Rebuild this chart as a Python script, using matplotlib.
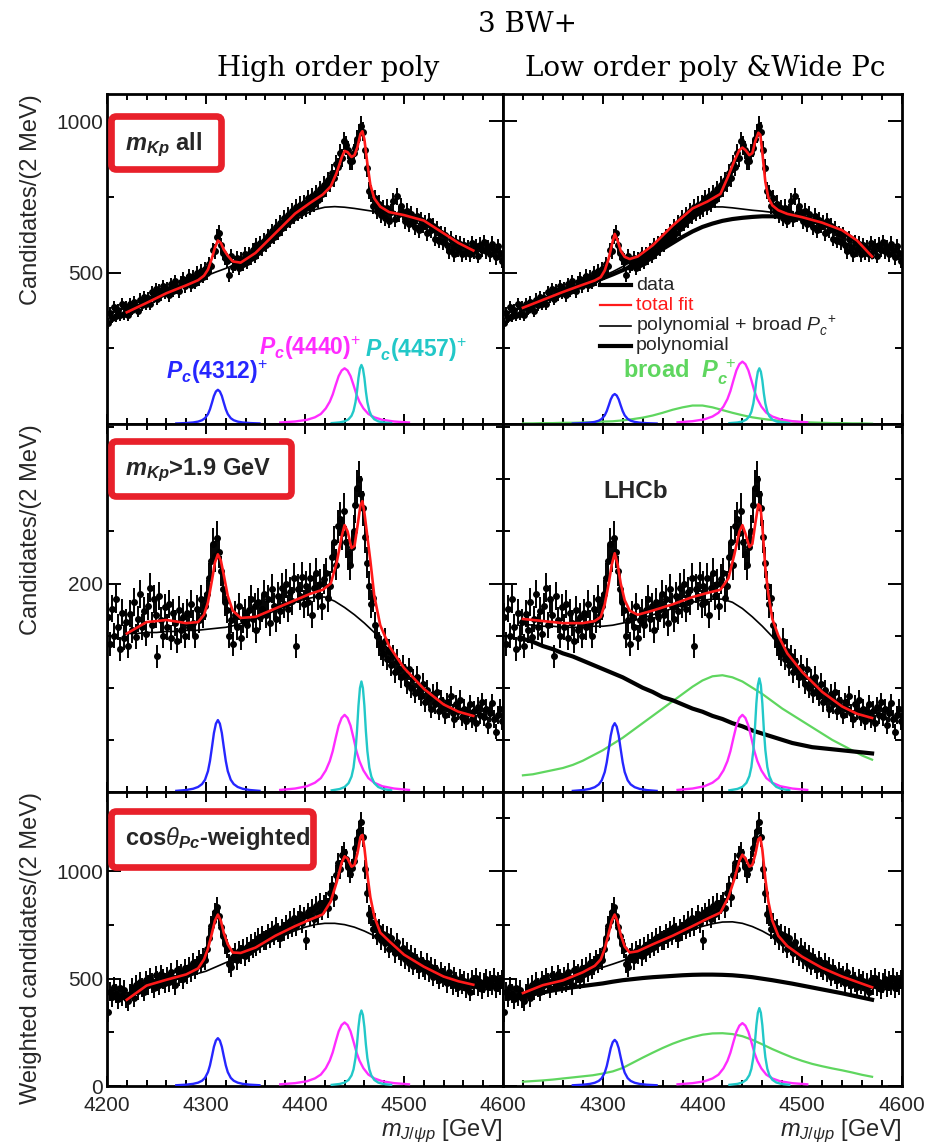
"""
Pc(4312/4440/4457) fits to the J/psi p mass spectrum: three event selections
(rows) fitted with two background models (columns).
"""
import numpy as np
import matplotlib.pyplot as plt
from matplotlib.patches import FancyBboxPatch
from matplotlib.lines import Line2D
from matplotlib.ticker import MultipleLocator

plt.rcParams["font.family"] = ["Liberation Sans", "DejaVu Sans"]
plt.rcParams["mathtext.fontset"] = "custom"
plt.rcParams["mathtext.rm"] = "Liberation Sans"
plt.rcParams["mathtext.it"] = "Liberation Sans:italic"
plt.rcParams["mathtext.bf"] = "Liberation Sans:bold"
plt.rcParams["mathtext.bfit"] = "Liberation Sans:bold:italic"

W_PX, H_PX = 936, 1145

# ── binned data: 2 MeV bins from 4200 to 4600 ───────────────────────────────
BIN_LO, BIN_HI, BIN_W = 4200, 4600, 2
BIN_CENTRES = np.arange(BIN_LO + BIN_W / 2, BIN_HI, BIN_W)

# m_Kp all
TOP_COUNTS = [
    332, 368, 351, 385, 356, 377, 359, 395, 364, 388,
    360, 396, 378, 402, 389, 374, 411, 393, 420, 398,
    415, 398, 436, 421, 446, 412, 440, 428, 455, 433,
    447, 425, 462, 440, 471, 452, 438, 468, 480, 455,
    472, 490, 458, 485, 466, 498, 478, 505, 487, 512,
    498, 530, 522, 574, 570, 618, 632, 590, 566, 548,
    540, 492, 555, 520, 530, 548, 516, 545, 528, 560,
    535, 562, 548, 575, 556, 590, 568, 598, 580, 605,
    592, 620, 608, 636, 618, 650, 632, 665, 648, 680,
    662, 690, 675, 705, 686, 718, 696, 725, 704, 730,
    712, 745, 718, 752, 728, 762, 740, 775, 760, 790,
    778, 805, 795, 830, 812, 860, 848, 895, 880, 935,
    920, 905, 870, 868, 895, 912, 940, 960, 985, 965,
    905, 845, 770, 762, 720, 745, 705, 728, 690, 712,
    680, 715, 672, 700, 735, 678, 752, 695, 720, 700,
    670, 705, 660, 695, 672, 650, 688, 640, 675, 655,
    665, 630, 672, 640, 655, 612, 645, 605, 630, 600,
    625, 590, 570, 612, 585, 560, 600, 575, 595, 560,
    590, 565, 582, 560, 598, 570, 588, 555, 592, 575,
    600, 570, 585, 560, 595, 575, 550, 588, 565, 540,
]

# m_Kp > 1.9 GeV
MID_COUNTS = [
    168, 142, 176, 150, 185, 158, 137, 172, 148, 163,
    140, 171, 155, 182, 149, 166, 190, 158, 174, 152,
    178, 196, 160, 185, 170, 130, 188, 165, 150, 177,
    158, 180, 148, 172, 162, 145, 175, 155, 168, 150,
    172, 158, 180, 162, 150, 176, 165, 185, 170, 178,
    190, 205, 222, 238, 226, 244, 230, 212, 195, 182,
    175, 150, 165, 142, 170, 158, 178, 148, 165, 172,
    160, 175, 185, 166, 178, 155, 182, 168, 176, 190,
    170, 185, 162, 195, 178, 166, 188, 174, 196, 180,
    200, 176, 192, 183, 205, 140, 195, 188, 206, 180,
    198, 182, 205, 170, 196, 210, 188, 200, 178, 204,
    210, 186, 198, 225, 240, 218, 255, 262, 248, 270,
    240, 228, 218, 235, 250, 275, 292, 300, 286, 272,
    245, 220, 198, 180, 186, 160, 150, 142, 138, 132,
    145, 128, 135, 122, 130, 115, 126, 118, 110, 120,
    112, 104, 118, 100, 108, 95, 110, 98, 92, 104,
    86, 98, 90, 80, 94, 84, 96, 78, 88, 82,
    74, 86, 80, 92, 76, 70, 84, 78, 88, 72,
    80, 68, 76, 84, 70, 78, 66, 82, 74, 86,
    72, 80, 64, 76, 85, 70, 58, 74, 80, 68,
]

# cos(theta_Pc)-weighted
BOT_COUNTS = [
    345, 440, 415, 462, 430, 405, 455, 420, 448, 410,
    395, 430, 458, 412, 470, 445, 485, 460, 440, 492,
    470, 505, 480, 455, 515, 490, 470, 520, 498, 480,
    510, 485, 530, 495, 470, 540, 512, 525, 498, 548,
    520, 555, 530, 575, 545, 560, 590, 570, 600, 585,
    640, 690, 745, 770, 810, 835, 790, 740, 700, 660,
    640, 570, 555, 600, 620, 585, 630, 612, 640, 605,
    650, 625, 662, 640, 672, 650, 690, 665, 700, 678,
    680, 708, 690, 725, 700, 742, 715, 690, 735, 720,
    750, 728, 770, 740, 785, 745, 770, 800, 760, 790,
    680, 810, 790, 825, 780, 840, 800, 855, 820, 845,
    860, 830, 900, 935, 880, 985, 1040, 1010, 1075, 1090,
    1060, 1020, 990, 1015, 1050, 1110, 1150, 1190, 1230, 1160,
    1010, 900, 800, 790, 730, 760, 700, 735, 680, 710,
    665, 700, 640, 690, 655, 620, 670, 630, 605, 645,
    590, 625, 575, 610, 560, 598, 570, 545, 585, 555,
    540, 575, 530, 555, 510, 548, 520, 495, 535, 505,
    515, 480, 530, 495, 470, 510, 485, 460, 500, 475,
    490, 455, 480, 440, 495, 470, 505, 465, 485, 450,
    480, 500, 460, 490, 470, 505, 455, 485, 470, 495,
]
WEIGHTED_ERR = 45.0

# ── total fit, dense knots around the narrow peaks ──────────────────────────
FIT_X = [4220, 4240, 4260, 4280, 4292, 4298, 4302, 4306, 4309, 4312,
         4315, 4318, 4322, 4327, 4335, 4350, 4370, 4390, 4405, 4418,
         4426, 4432, 4437, 4440, 4443, 4447, 4450, 4453, 4456, 4458,
         4460, 4463, 4466, 4470, 4476, 4485, 4500, 4520, 4540, 4555, 4570]

TL_RED = [369, 400, 432, 458, 475, 490, 510, 548, 582, 606,
          598, 576, 556, 537, 533, 565, 630, 695, 730, 758,
          785, 830, 880, 902, 898, 882, 888, 915, 958, 967,
          940, 860, 790, 745, 718, 700, 690, 672, 630, 598, 573]
TR_RED = [384, 410, 436, 460, 474, 485, 507, 547, 590, 628,
          605, 572, 552, 545, 553, 590, 655, 712, 735, 760,
          820, 870, 905, 913, 905, 888, 895, 935, 962, 955,
          895, 800, 748, 722, 706, 694, 683, 665, 640, 606, 553]
ML_RED = [152, 163, 165, 162, 163, 170, 182, 203, 220, 228,
          222, 208, 188, 174, 167, 168, 176, 184, 190, 194,
          200, 220, 245, 256, 250, 234, 236, 255, 275, 279,
          268, 245, 222, 188, 160, 140, 119, 99, 84, 77, 73]
MR_RED = [166, 164, 162, 162, 164, 168, 180, 200, 218, 229,
          218, 200, 184, 174, 170, 174, 180, 187, 191, 194,
          205, 228, 250, 256, 248, 235, 238, 258, 276, 274,
          255, 215, 190, 166, 150, 133, 115, 96, 82, 75, 71]
BL_RED = [402, 468, 495, 520, 548, 590, 640, 712, 770, 799,
          770, 712, 660, 622, 620, 645, 700, 745, 775, 800,
          860, 950, 1040, 1070, 1060, 1022, 1030, 1085, 1160, 1170,
          1110, 985, 880, 790, 715, 675, 612, 556, 510, 488, 472]
BR_RED = [433, 470, 492, 530, 560, 590, 640, 712, 770, 799,
          765, 705, 650, 622, 628, 660, 700, 745, 780, 808,
          880, 965, 1050, 1078, 1060, 1022, 1030, 1080, 1150, 1158,
          1100, 965, 860, 770, 700, 652, 602, 550, 510, 485, 460]

# ── background components, 10 MeV knots ─────────────────────────────────────
BKG_X = [4220, 4230, 4240, 4250, 4260, 4270, 4280, 4290, 4300, 4310,
         4320, 4330, 4340, 4350, 4360, 4370, 4380, 4390, 4400, 4410,
         4420, 4430, 4440, 4450, 4460, 4470, 4480, 4490, 4500, 4510,
         4520, 4530, 4540, 4550, 4560, 4570]

TL_BKG = [369, 387, 404, 419, 432, 445, 459, 474, 489, 502,
          514, 527, 542, 562, 588, 616, 645, 672, 693, 708,
          716, 718, 716, 712, 707, 702, 697, 692, 687, 680,
          669, 654, 634, 613, 593, 573]
TR_THIN = [386, 397, 409, 421, 434, 446, 460, 474, 489, 503,
           520, 539, 561, 586, 615, 645, 673, 697, 712, 717,
           717, 714, 710, 706, 703, 699, 694, 689, 683, 676,
           666, 653, 639, 616, 588, 553]
TR_THICK = [384, 395, 406, 418, 430, 442, 455, 468, 481, 494,
            508, 523, 540, 558, 578, 598, 618, 636, 651, 662,
            671, 677, 681, 684, 686, 686, 684, 681, 677, 671,
            662, 650, 636, 614, 586, 552]
TR_GREEN = [2, 2, 3, 3, 4, 4, 5, 6, 8, 9,
            12, 16, 21, 28, 37, 47, 55, 61, 61, 55,
            46, 37, 29, 22, 17, 13, 10, 8, 6, 5,
            4, 3, 3, 2, 2, 1]

ML_BKG = [152, 152, 153, 153, 154, 154, 155, 155, 156, 157,
          158, 160, 163, 166, 170, 174, 178, 182, 185, 187,
          187, 183, 177, 170, 162, 153, 142, 130, 119, 109,
          99, 91, 84, 79, 75, 73]
MR_THIN = [161, 160, 159, 159, 158, 158, 158, 159, 159, 160,
           162, 164, 167, 170, 173, 176, 179, 182, 184, 185,
           185, 182, 176, 168, 159, 149, 138, 126, 115, 105,
           96, 88, 82, 77, 73, 70]
MR_THICK = [147, 144, 140, 137, 133, 130, 126, 122, 118, 114,
            110, 105, 100, 96, 91, 88, 84, 80, 77, 73,
            70, 66, 63, 59, 56, 53, 50, 47, 45, 43,
            42, 41, 40, 39, 38, 37]
MR_GREEN = [16, 17, 19, 21, 23, 26, 30, 35, 40, 46,
            52, 59, 66, 73, 80, 87, 94, 101, 107, 111,
            112, 110, 106, 100, 94, 87, 80, 74, 68, 62,
            56, 50, 45, 40, 35, 31]

BL_BKG = [402, 430, 452, 470, 485, 498, 510, 522, 535, 555,
          575, 594, 614, 635, 658, 682, 704, 724, 740, 752,
          758, 758, 752, 740, 722, 700, 677, 643, 610, 582,
          555, 530, 510, 495, 482, 472]
BR_THIN = [433, 448, 462, 476, 490, 505, 520, 537, 553, 568,
           584, 604, 627, 650, 671, 691, 710, 728, 744, 756,
           764, 765, 758, 743, 722, 696, 667, 630, 600, 575,
           548, 530, 507, 495, 478, 460]
BR_THICK = [418, 427, 436, 445, 453, 460, 466, 472, 478, 486,
            493, 498, 503, 507, 510, 513, 516, 518, 519, 519,
            518, 516, 512, 507, 500, 493, 485, 477, 468, 459,
            450, 441, 432, 422, 412, 402]
BR_GREEN = [20, 23, 26, 30, 35, 40, 45, 50, 58, 68,
            84, 108, 132, 155, 177, 197, 214, 228, 239, 245,
            246, 242, 232, 215, 194, 172, 152, 133, 117, 103,
            92, 82, 73, 63, 52, 43]

# narrow states: mass, line shape (offset in MeV, fraction of peak height)
PC_MASS = {"4312": 4312, "4440": 4440, "4457": 4457}
PC_OFFSET = {
    "4312": [-42, -32, -25, -20, -16, -13, -10, -8, -6, -4, -2, 0,
             2, 4, 6, 8, 10, 13, 16, 20, 25, 32, 42],
    "4440": [-65, -50, -38, -30, -24, -19, -15, -12, -9, -6, -3, 0,
             3, 6, 9, 12, 15, 19, 24, 30, 38, 50, 65],
    "4457": [-30, -22, -17, -13, -10, -8, -6, -4.5, -3, -1.5, 0,
             1.5, 3, 4.5, 6, 8, 10, 13, 17, 22, 30],
}
PC_SHAPE = {
    "4312": [0.016, 0.028, 0.045, 0.07, 0.11, 0.17, 0.29, 0.43, 0.62, 0.82, 0.95, 1.0,
             0.95, 0.82, 0.62, 0.43, 0.29, 0.17, 0.11, 0.07, 0.045, 0.028, 0.016],
    "4440": [0.027, 0.045, 0.075, 0.12, 0.18, 0.28, 0.40, 0.53, 0.70, 0.86, 0.96, 1.0,
             0.96, 0.86, 0.70, 0.53, 0.40, 0.28, 0.18, 0.12, 0.075, 0.045, 0.027],
    "4457": [0.015, 0.027, 0.045, 0.08, 0.14, 0.22, 0.37, 0.55, 0.78, 0.94, 1.0,
             0.94, 0.78, 0.55, 0.37, 0.22, 0.14, 0.08, 0.045, 0.027, 0.015],
}
# peak heights (4312, 4440, 4457) per panel
TL_PEAKS = [113, 184, 195]
TR_PEAKS = [99, 206, 184]
ML_PEAKS = [69, 74, 106]
MR_PEAKS = [66, 74, 109]
BL_PEAKS = [223, 296, 352]
BR_PEAKS = [215, 293, 363]

C_RED = "#ff1a1a"
C_PC = {"4312": "#2626ff", "4440": "#ff2cff", "4457": "#22c8c8"}
C_GREEN = "#5fd65f"
C_TEXT = "#262626"

# pad edges in pixels
COL_X = [(107, 503), (503, 902)]
ROW_Y = [(94, 424), (424, 792), (792, 1086)]
ROW_YMAX = [1090, 353, 1370]
ROW_MAJOR = [500, 200, 500]
ROW_MINOR = [250, 50, 250]
ROW_YLABELS = [
    ([500, 1000], ["500", "1000"]),
    ([200], ["200"]),
    ([0, 500, 1000], ["0", "500", "1000"]),
]

PANELS = [
    dict(row=0, col=0, counts=TOP_COUNTS, red=TL_RED, thin=TL_BKG, peaks=TL_PEAKS),
    dict(row=0, col=1, counts=TOP_COUNTS, red=TR_RED, thin=TR_THIN, thick=TR_THICK,
         green=TR_GREEN, peaks=TR_PEAKS),
    dict(row=1, col=0, counts=MID_COUNTS, red=ML_RED, thin=ML_BKG, peaks=ML_PEAKS),
    dict(row=1, col=1, counts=MID_COUNTS, red=MR_RED, thin=MR_THIN, thick=MR_THICK,
         green=MR_GREEN, peaks=MR_PEAKS),
    dict(row=2, col=0, counts=BOT_COUNTS, red=BL_RED, thin=BL_BKG, peaks=BL_PEAKS),
    dict(row=2, col=1, counts=BOT_COUNTS, red=BR_RED, thin=BR_THIN, thick=BR_THICK,
         green=BR_GREEN, peaks=BR_PEAKS),
]


def fx(px):
    return px / W_PX


def fy(py):
    return 1 - py / H_PX


def style_axes(ax, row, col):
    ax.set_xlim(BIN_LO, BIN_HI)
    ax.set_ylim(0, ROW_YMAX[row])
    for sp in ax.spines.values():
        sp.set_linewidth(2.0)
    ax.xaxis.set_major_locator(MultipleLocator(100))
    ax.xaxis.set_minor_locator(MultipleLocator(20))
    ax.yaxis.set_major_locator(MultipleLocator(ROW_MAJOR[row]))
    ax.yaxis.set_minor_locator(MultipleLocator(ROW_MINOR[row]))
    ax.tick_params(which="both", direction="in", top=True, right=True,
                   width=1.4, colors="black", labelcolor=C_TEXT, labelsize=15)
    ax.tick_params(axis="x", which="major", length=7, pad=7)
    ax.tick_params(axis="x", which="minor", length=4)
    ax.tick_params(axis="y", which="major", length=10, pad=3)
    ax.tick_params(axis="y", which="minor", length=5)

    if col == 0:
        ticks, labels = ROW_YLABELS[row]
        ax.set_yticks(ticks, labels)
        ax.yaxis.set_minor_locator(MultipleLocator(ROW_MINOR[row]))
    else:
        ax.tick_params(labelleft=False)

    if row == 2:
        xt = [4200, 4300, 4400, 4500, 4600]
        xl = [str(v) for v in xt]
        if col == 1:
            xl[0] = ""
        ax.set_xticks(xt, xl)
        ax.xaxis.set_minor_locator(MultipleLocator(20))
    else:
        ax.tick_params(labelbottom=False)


fig = plt.figure(figsize=(W_PX / 100, H_PX / 100), dpi=100)

for p in PANELS:
    row, col = p["row"], p["col"]
    x0, x1 = COL_X[col]
    y0, y1 = ROW_Y[row]
    ax = fig.add_axes([fx(x0), fy(y1), fx(x1 - x0), (y1 - y0) / H_PX])
    style_axes(ax, row, col)

    counts = np.asarray(p["counts"], dtype=float)
    err = np.full_like(counts, WEIGHTED_ERR) if row == 2 else np.sqrt(counts)
    ax.errorbar(BIN_CENTRES, counts, yerr=err, xerr=BIN_W / 2, fmt="o",
                color="black", ms=4.0, elinewidth=1.4, capsize=0, zorder=2)

    if "green" in p:
        ax.plot(BKG_X, p["green"], color=C_GREEN, lw=1.6, zorder=3)
        ax.plot(BKG_X, p["thick"], color="black", lw=3.0, zorder=3)
    ax.plot(BKG_X, p["thin"], color="black", lw=1.2, zorder=3)

    for key, h in zip(["4312", "4440", "4457"], p["peaks"]):
        xs = PC_MASS[key] + np.asarray(PC_OFFSET[key])
        ys = h * np.asarray(PC_SHAPE[key])
        ax.plot(xs, ys, color=C_PC[key], lw=1.7, zorder=4)

    ax.plot(FIT_X, p["red"], color=C_RED, lw=1.9, zorder=5)

# ── titles ──────────────────────────────────────────────────────────────────
serif = dict(family="DejaVu Serif", fontsize=20, color="black", ha="center", va="center")
fig.text(fx(528), fy(25), "3 BW+", **serif)
fig.text(fx(328), fy(68), "High order poly", **serif)
fig.text(fx(705), fy(68), "Low order poly &Wide Pc", **serif)

# ── axis titles ─────────────────────────────────────────────────────────────
for (ytop, _), label in zip(ROW_Y, ["Candidates/(2 MeV)", "Candidates/(2 MeV)",
                                    "Weighted candidates/(2 MeV)"]):
    fig.text(fx(31), fy(ytop), label, rotation=90, ha="center", va="top",
             fontsize=17, color=C_TEXT)
for xr in (503, 902):
    fig.text(fx(xr), fy(1131), r"$m_{J/\psi p}$ [GeV]", ha="right", va="center",
             fontsize=17, color=C_TEXT)

# ── selection boxes ─────────────────────────────────────────────────────────
BOXES = [
    ((111.5, 116.5, 221.5, 169.5), r"$\mathbfit{m}_{\mathbfit{Kp}}$ all", 145),
    ((111.5, 441.5, 291.5, 496.5), r"$\mathbfit{m}_{\mathbfit{Kp}}$>1.9 GeV", 470),
    ((111.5, 811.5, 313.5, 867.5), r"cos$\theta_{\mathbfit{Pc}}$-weighted", 838),
]
for (bx0, by0, bx1, by1), text, ty in BOXES:
    box = FancyBboxPatch((bx0 / 100, (H_PX - by1) / 100), (bx1 - bx0) / 100,
                         (by1 - by0) / 100,
                         boxstyle="round,pad=0,rounding_size=0.05",
                         transform=fig.dpi_scale_trans, facecolor="white",
                         edgecolor="#e8202a", lw=4.8, zorder=10)
    fig.add_artist(box)
    fig.text(fx(125), fy(ty), text, fontsize=17, fontweight="bold",
             color=C_TEXT, va="center", ha="left", zorder=11)

# ── state labels (top-left) ─────────────────────────────────────────────────
fig.text(fx(166), fy(372), r"$\mathbfit{P}_{\mathbfit{c}}$(4312)$^{+}$",
         color=C_PC["4312"], fontsize=16.5, fontweight="bold", va="center")
fig.text(fx(259), fy(348), r"$\mathbfit{P}_{\mathbfit{c}}$(4440)$^{+}$",
         color=C_PC["4440"], fontsize=16.5, fontweight="bold", va="center")
fig.text(fx(365), fy(350), r"$\mathbfit{P}_{\mathbfit{c}}$(4457)$^{+}$",
         color=C_PC["4457"], fontsize=16.5, fontweight="bold", va="center")

# ── legend (top-right) ──────────────────────────────────────────────────────
LEGEND = [("data", "black", 3.0, C_TEXT, 285),
          ("total fit", C_RED, 1.6, C_RED, 305),
          (r"polynomial + broad $P_c^{\ +}$", "black", 1.2, C_TEXT, 326),
          ("polynomial", "black", 3.0, C_TEXT, 346)]
for label, lc, lw, tc, ly in LEGEND:
    fig.add_artist(Line2D([fx(600), fx(631)], [fy(ly), fy(ly)], color=lc, lw=lw))
    fig.text(fx(636), fy(ly), label, color=tc, fontsize=14, va="center")

fig.text(fx(623), fy(372), r"broad  $\mathbfit{P}_{\mathbfit{c}}^{\ +}$",
         color=C_GREEN, fontsize=17, fontweight="bold", va="center")
fig.text(fx(603), fy(492), "LHCb", color=C_TEXT, fontsize=17.5,
         fontweight="bold", va="center")

fig.savefig("out.png", dpi=100)
